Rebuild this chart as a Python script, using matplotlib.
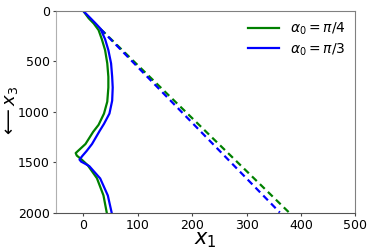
import matplotlib
matplotlib.use("Agg")
import matplotlib.pyplot as plt

# solid curves (x1, x3)
green_x1 = [0, 10, 19, 28, 34, 40, 44, 46, 46, 44, 38, 28, 18, 4, -8, -14, -12, -4, 8, 25, 37, 43]
green_x3 = [0, 73, 123, 189, 280, 388, 520, 653, 760, 900, 1018, 1130, 1200, 1320, 1380, 1410, 1435, 1470, 1530, 1660, 1830, 2000]
blue_x1 = [0, 12, 22, 31, 40, 46, 51, 53, 54, 53, 48, 38, 30, 16, 6, -2, -7, -4, 3, 11, 31, 45, 52]
blue_x3 = [0, 65, 120, 172, 280, 388, 520, 653, 760, 890, 1018, 1120, 1190, 1320, 1390, 1440, 1475, 1495, 1515, 1540, 1662, 1831, 2000]

# dashed straight rays
green_ray_x1 = [32, 378]
green_ray_x3 = [180, 2000]
blue_ray_x1 = [31, 361]
blue_ray_x3 = [175, 2000]

labels = [r"$\alpha_0 = \pi/4$", r"$\alpha_0 = \pi/3$"]

fig = plt.figure(figsize=(3.74, 2.5), dpi=100)
ax = fig.add_axes([0.150, 0.15, 0.8005, 0.806])

ax.plot(green_x1, green_x3, color="green", lw=1.6, label=labels[0])
ax.plot(blue_x1, blue_x3, color="blue", lw=1.6, label=labels[1])
ax.plot(green_ray_x1, green_ray_x3, color="green", lw=1.6, ls=(0, (3, 2)))
ax.plot(blue_ray_x1, blue_ray_x3, color="blue", lw=1.6, ls=(0, (3, 2)))

ax.set_xlim(-50, 500)
ax.set_ylim(2000, 0)
ax.set_xticks([0, 100, 200, 300, 400, 500])
ax.set_yticks([0, 500, 1000, 1500, 2000])
ax.tick_params(labelsize=9, length=2.5, width=0.8, color="#444444", pad=2)

for s in ["top", "right"]:
    ax.spines[s].set_color("#808080")
ax.spines["left"].set_color("#b0b0b0")
ax.spines["bottom"].set_color("#555555")

ax.set_xlabel(r"$x_1$", fontsize=15, labelpad=-1)
ax.set_ylabel(r"$\longleftarrow x_3$", fontsize=13)
ax.yaxis.set_label_coords(-0.12, 0.5)

ax.legend(loc="upper right", frameon=False, fontsize=10,
          handlelength=2.2, borderaxespad=0.3, labelspacing=0.3)

fig.savefig("out.png", dpi=100)
